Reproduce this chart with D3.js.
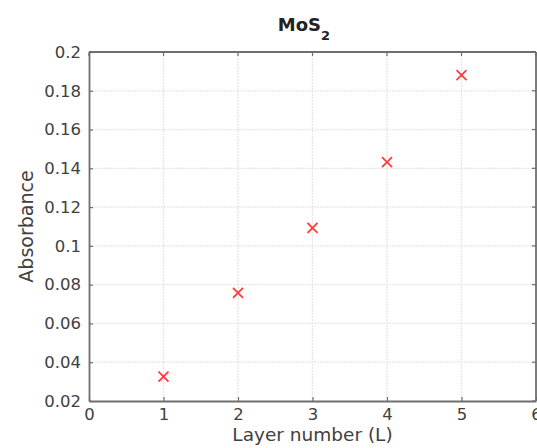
<!DOCTYPE html>
<html><head><meta charset="utf-8">
<script src="https://cdn.jsdelivr.net/npm/d3@7"></script>
<style>
html,body{margin:0;padding:0;background:#fff;overflow:hidden;}
text{font-family:"DejaVu Sans",sans-serif;}
</style></head>
<body><svg id="c" width="537" height="448"></svg>
<script>
const layers = [1, 2, 3, 4, 5];
const absorbance = [0.0326, 0.0758, 0.1093, 0.1432, 0.1881];
const xTicks = [0, 1, 2, 3, 4, 5, 6];
const yTicks = [0.02, 0.04, 0.06, 0.08, 0.1, 0.12, 0.14, 0.16, 0.18, 0.2];
const titleMain = "MoS";
const titleSub = "2";
const xLabel = "Layer number (L)";
const yLabel = "Absorbance";

const svg = d3.select("#c");
const m = {left: 89, right: 536, top: 52, bottom: 401};
const x = d3.scaleLinear().domain([0, 6]).range([m.left, m.right]);
const y = d3.scaleLinear().domain([0.02, 0.2]).range([m.bottom, m.top]);

// grid
svg.append("g").selectAll("line").data(xTicks.slice(1, -1)).join("line")
  .attr("x1", d => x(d)).attr("x2", d => x(d)).attr("y1", m.top).attr("y2", m.bottom)
  .attr("stroke", "#e6e6e6").attr("stroke-width", 1.3).attr("stroke-dasharray", "2,1");
svg.append("g").selectAll("line").data(yTicks.slice(1, -1)).join("line")
  .attr("y1", d => y(d)).attr("y2", d => y(d)).attr("x1", m.left).attr("x2", m.right)
  .attr("stroke", "#e6e6e6").attr("stroke-width", 1.3).attr("stroke-dasharray", "2,1");

// axes
const xAxis = svg.append("g").attr("transform", `translate(0,${m.bottom})`)
  .call(d3.axisBottom(x).tickValues(xTicks).tickFormat(d3.format("d")).tickSizeInner(-4).tickSizeOuter(0).tickPadding(10));
const yAxis = svg.append("g").attr("transform", `translate(${m.left},0)`)
  .call(d3.axisLeft(y).tickValues(yTicks).tickFormat(d => String(+d.toFixed(2))).tickSizeInner(-4).tickSizeOuter(0).tickPadding(8));
[xAxis, yAxis].forEach(a => {
  a.select(".domain").attr("stroke", "#6e6e6e").attr("stroke-width", 1.8);
  a.selectAll(".tick line").attr("stroke", "#6e6e6e").attr("stroke-width", 1.2);
  a.selectAll(".tick text").attr("fill", "#404040").style("font-size", "16.5px").style("font-family", "DejaVu Sans");
});
xAxis.selectAll(".tick text").attr("dy", "0.71em").attr("y", 7);
// top and right box lines
svg.append("line").attr("x1", m.left).attr("x2", m.right).attr("y1", m.top).attr("y2", m.top)
  .attr("stroke", "#6e6e6e").attr("stroke-width", 1.8);
svg.append("line").attr("x1", m.right).attr("x2", m.right).attr("y1", m.top).attr("y2", m.bottom)
  .attr("stroke", "#6e6e6e").attr("stroke-width", 1.8);
// top / right ticks
svg.append("g").selectAll("line").data(xTicks).join("line")
  .attr("x1", d => x(d)).attr("x2", d => x(d)).attr("y1", m.top).attr("y2", m.top + 4)
  .attr("stroke", "#6e6e6e").attr("stroke-width", 1.2);
svg.append("g").selectAll("line").data(yTicks).join("line")
  .attr("y1", d => y(d)).attr("y2", d => y(d)).attr("x1", m.right).attr("x2", m.right - 4)
  .attr("stroke", "#6e6e6e").attr("stroke-width", 1.2);

// markers (x crosses)
const s = 5;
svg.append("g").selectAll("path").data(layers.map((l, i) => [l, absorbance[i]])).join("path")
  .attr("d", d => {
    const cx = x(d[0]), cy = y(d[1]);
    return `M${cx - s},${cy - s}L${cx + s},${cy + s}M${cx - s},${cy + s}L${cx + s},${cy - s}`;
  })
  .attr("stroke", "#ff3b3b").attr("stroke-width", 1.8).attr("fill", "none");

// title
const t = svg.append("text").attr("x", 304).attr("y", 31).attr("text-anchor", "middle")
  .attr("fill", "#222").style("font-size", "18px").style("font-weight", "bold");
t.append("tspan").text(titleMain);
t.append("tspan").attr("dy", 9).style("font-size", "13px").text(titleSub);

// axis labels
svg.append("text").attr("x", (m.left + m.right) / 2).attr("y", 441).attr("text-anchor", "middle")
  .attr("fill", "#404040").style("font-size", "18.5px").text(xLabel);
svg.append("text").attr("transform", `translate(33,${(m.top + m.bottom) / 2}) rotate(-90)`)
  .attr("text-anchor", "middle").attr("fill", "#404040").style("font-size", "19px").text(yLabel);
</script></body></html>
